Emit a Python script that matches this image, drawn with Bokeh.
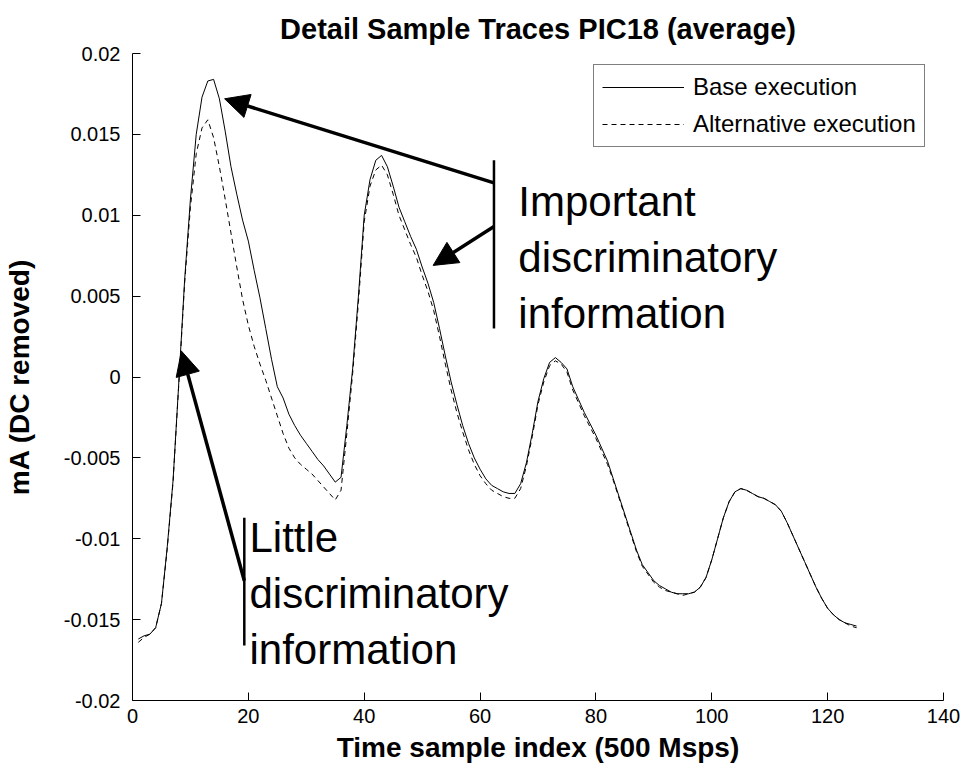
from bokeh.plotting import figure
from bokeh.models import (Range1d, FixedTicker, Arrow, NormalHead,
                          ColumnDataSource, Legend, LegendItem)
from bokeh.core.properties import value
from bokeh.embed import file_html
from bokeh.resources import INLINE

samples = list(range(1, 126))
base_execution = [
    -0.0162, -0.0160, -0.0159, -0.0155, -0.0140, -0.0105, -0.0064, -0.0003, 0.0060, 0.0110,
    0.0150, 0.0173, 0.0183, 0.0184, 0.0172, 0.0152, 0.0130, 0.0113, 0.0097, 0.0084,
    0.0066, 0.0049, 0.0030, 0.0011, -0.0006, -0.0013, -0.0023, -0.0030, -0.0036, -0.0041,
    -0.0046, -0.0051, -0.0055, -0.0060, -0.0065, -0.0062, -0.0030, 0.0005, 0.0050, 0.0100,
    0.0122, 0.0134, 0.0137, 0.0130, 0.0118, 0.0105, 0.0096, 0.0087, 0.0079, 0.0068,
    0.0058, 0.0046, 0.0030, 0.0013, -0.0003, -0.0017, -0.0030, -0.0041, -0.0050, -0.0057,
    -0.0063, -0.0067, -0.0069, -0.0071, -0.0072, -0.0072, -0.0066, -0.0053, -0.0035, -0.0015,
    -0.0001, 0.0009, 0.0012, 0.0009, 0.0005, -0.0006, -0.0014, -0.0022, -0.0029, -0.0036,
    -0.0044, -0.0052, -0.0063, -0.0074, -0.0085, -0.0096, -0.0107, -0.0116, -0.0121, -0.0126,
    -0.0129, -0.0131, -0.0133, -0.0134, -0.0134, -0.0134, -0.0133, -0.0130, -0.0124, -0.0113,
    -0.0100, -0.0087, -0.0077, -0.0071, -0.0069, -0.0070, -0.0072, -0.0074, -0.0075, -0.0077,
    -0.0079, -0.0083, -0.0090, -0.0098, -0.0106, -0.0114, -0.0122, -0.0130, -0.0137, -0.0143,
    -0.0147, -0.0150, -0.0152, -0.0153, -0.0154,
]
alternative_execution = [
    -0.0164, -0.0161, -0.0159, -0.0155, -0.0140, -0.0106, -0.0065, -0.0004, 0.0058, 0.0105,
    0.0138, 0.0154, 0.0159, 0.0148, 0.0130, 0.0110, 0.0089, 0.0068, 0.0048, 0.0032,
    0.0019, 0.0008, -0.0002, -0.0013, -0.0024, -0.0035, -0.0044, -0.0050, -0.0054, -0.0057,
    -0.0060, -0.0064, -0.0068, -0.0072, -0.0076, -0.0070, -0.0035, 0.0002, 0.0046, 0.0096,
    0.0118, 0.0128, 0.0131, 0.0125, 0.0113, 0.0100, 0.0091, 0.0082, 0.0074, 0.0063,
    0.0053, 0.0041, 0.0025, 0.0008, -0.0008, -0.0022, -0.0034, -0.0045, -0.0054, -0.0061,
    -0.0066, -0.0070, -0.0072, -0.0074, -0.0075, -0.0075, -0.0069, -0.0055, -0.0037, -0.0017,
    -0.0003, 0.0007, 0.0010, 0.0008, 0.0003, -0.0008, -0.0016, -0.0024, -0.0031, -0.0038,
    -0.0046, -0.0054, -0.0064, -0.0075, -0.0086, -0.0097, -0.0108, -0.0117, -0.0122, -0.0127,
    -0.0130, -0.0132, -0.0133, -0.0134, -0.0135, -0.0134, -0.0133, -0.0130, -0.0124, -0.0113,
    -0.0100, -0.0087, -0.0077, -0.0071, -0.0069, -0.0070, -0.0072, -0.0074, -0.0075, -0.0077,
    -0.0079, -0.0083, -0.0090, -0.0098, -0.0106, -0.0114, -0.0122, -0.0130, -0.0137, -0.0143,
    -0.0147, -0.0150, -0.0152, -0.0154, -0.0155,
]

x_ticks = [0, 20, 40, 60, 80, 100, 120, 140]
y_ticks = [-0.02, -0.015, -0.01, -0.005, 0, 0.005, 0.01, 0.015, 0.02]
y_tick_labels = ["-0.02", "-0.015", "-0.01", "-0.005", "0", "0.005", "0.01", "0.015", "0.02"]

# annotation anchors (data coordinates)
important_text = "Important\ndiscriminatory\ninformation"
important_text_pos = (66.6, 0.0123)
important_bar_x = 62.4
important_bar_y = (0.0134, 0.0030)
important_arrows_start_x = [62.4, 62.4]
important_arrows_start_y = [0.0120, 0.0093]
important_arrows_end_x = [15.9, 51.9]
important_arrows_end_y = [0.0172, 0.0069]

little_text = "Little\ndiscriminatory\ninformation"
little_text_pos = (20.2, -0.0085)
little_bar_x = 19.3
little_bar_y = (-0.0087, -0.0166)
little_arrow_start = (19.3, -0.0126)
little_arrow_end = (8.45, 0.0016)

FONT = "Liberation Sans"

p = figure(width=969, height=775, output_backend="svg", toolbar_location=None,
           x_range=Range1d(0, 140), y_range=Range1d(-0.02, 0.02),
           min_border_left=131, min_border_right=26, min_border_top=53,
           min_border_bottom=75, background_fill_color="white",
           border_fill_color="white")
p.outline_line_color = None
p.grid.visible = False

p.title.text = "Detail Sample Traces PIC18 (average)"
p.title.align = "center"
p.title.text_font = FONT
p.title.text_font_size = "29px"
p.title.text_font_style = "bold"
p.title.text_color = "black"
p.title.standoff = 18

for ax in (p.xaxis[0], p.yaxis[0]):
    ax.major_tick_in = 8
    ax.major_tick_out = 0
    ax.minor_tick_line_color = None
    ax.axis_line_color = "black"
    ax.major_tick_line_color = "black"
    ax.major_label_text_font = FONT
    ax.major_label_text_font_size = "20px"
    ax.major_label_text_color = "black"
    ax.axis_label_text_font = FONT
    ax.axis_label_text_font_style = "bold"
    ax.axis_label_text_font_size = "28px"
    ax.axis_label_text_color = "black"

p.xaxis.ticker = FixedTicker(ticks=x_ticks)
p.yaxis.ticker = FixedTicker(ticks=y_ticks)
p.yaxis.major_label_overrides = {t: l for t, l in zip(y_ticks, y_tick_labels)}
p.xaxis.axis_label = "Time sample index (500 Msps)"
p.yaxis.axis_label = "mA (DC removed)"
p.xaxis.major_label_standoff = 8
p.yaxis.major_label_standoff = 12
p.xaxis.axis_label_standoff = 6
p.yaxis.axis_label_standoff = 26

src = ColumnDataSource(dict(x=samples, base=base_execution, alt=alternative_execution))
r_base = p.line("x", "base", source=src, line_color="black", line_width=1)
r_alt = p.line("x", "alt", source=src, line_color="black", line_width=1, line_dash="5 4")

legend = Legend(items=[LegendItem(label="Base execution", renderers=[r_base]),
                       LegendItem(label="Alternative execution", renderers=[r_alt])],
                location=(461, 553))
legend.border_line_color = "black"
legend.border_line_width = 1
legend.background_fill_alpha = 1
legend.label_text_font = FONT
legend.label_text_font_size = "24px"
legend.label_text_color = "black"
legend.glyph_width = 82
legend.glyph_height = 20
legend.label_height = 20
legend.label_standoff = 9
legend.spacing = 9
legend.padding = 8
legend.margin = 0
p.add_layout(legend, "center")

# vertical bars
bars = ColumnDataSource(dict(x0=[important_bar_x, little_bar_x],
                             y0=[important_bar_y[0], little_bar_y[0]],
                             x1=[important_bar_x, little_bar_x],
                             y1=[important_bar_y[1], little_bar_y[1]]))
p.segment("x0", "y0", "x1", "y1", source=bars, line_color="black", line_width=2.5)

starts_x = important_arrows_start_x + [little_arrow_start[0]]
starts_y = important_arrows_start_y + [little_arrow_start[1]]
ends_x = important_arrows_end_x + [little_arrow_end[0]]
ends_y = important_arrows_end_y + [little_arrow_end[1]]
for xs, ys, xe, ye in zip(starts_x, starts_y, ends_x, ends_y):
    p.add_layout(Arrow(end=NormalHead(size=24, fill_color="black", line_color="black"),
                       x_start=xs, y_start=ys, x_end=xe, y_end=ye,
                       line_width=3.5, line_color="black"))

p.text(x=[important_text_pos[0], little_text_pos[0]],
       y=[important_text_pos[1], little_text_pos[1]],
       text=[important_text, little_text],
       text_font=value(FONT), text_font_size="42px", text_color="black",
       text_baseline="top", text_align="left", text_line_height=1.19)

open("out.html", "w").write(file_html(p, INLINE))
